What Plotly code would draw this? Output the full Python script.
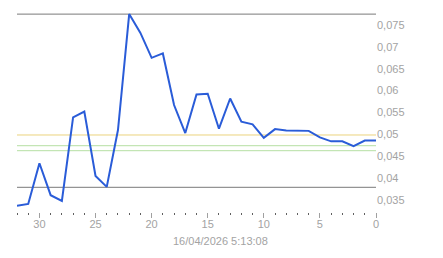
import plotly.graph_objects as go

# Data (days ago -> value)
days = list(range(32, -1, -1))
values = [0.0337, 0.0341, 0.0434, 0.0361, 0.0348, 0.0539, 0.0552, 0.0405, 0.0380,
          0.0510, 0.0775, 0.0732, 0.0675, 0.0685, 0.0567, 0.0503, 0.0591, 0.0593,
          0.0513, 0.0582, 0.0529, 0.0523, 0.0492, 0.0512, 0.0509, 0.0508, 0.0508,
          0.0493, 0.0484, 0.0484, 0.0473, 0.0486, 0.0486]

grey_levels = [0.07749, 0.0379]
yellow_levels = [0.04986]
green_levels = [0.04741, 0.04627]

y_ticks = [0.035, 0.04, 0.045, 0.05, 0.055, 0.06, 0.065, 0.07, 0.075]
x_ticks = [30, 25, 20, 15, 10, 5, 0]
timestamp = "16/04/2026 5:13:08"

fig = go.Figure()

shapes = []
for lv in grey_levels:
    shapes.append(dict(type="line", xref="paper", x0=0, x1=1, yref="y", y0=lv, y1=lv,
                       line=dict(color="#7a7a7a", width=1), layer="below"))
for lv in yellow_levels:
    shapes.append(dict(type="line", xref="paper", x0=0, x1=1, yref="y", y0=lv, y1=lv,
                       line=dict(color="#ebd37e", width=1), layer="below"))
for lv in green_levels:
    shapes.append(dict(type="line", xref="paper", x0=0, x1=1, yref="y", y0=lv, y1=lv,
                       line=dict(color="#b5dfa3", width=1), layer="below"))

fig.add_trace(go.Scatter(x=days, y=values, mode="lines",
                         line=dict(color="#2a5cd8", width=2), hoverinfo="skip"))

fig.update_layout(
    width=443, height=258,
    margin=dict(l=17, r=67, t=0, b=46),
    paper_bgcolor="white", plot_bgcolor="white",
    showlegend=False,
    separators=",.",
    shapes=shapes,
    font=dict(family="Liberation Sans, Arial, sans-serif", size=11, color="#a3a3a3"),
    xaxis=dict(range=[32, 0], showgrid=False, zeroline=False, showline=False,
               tickmode="array", tickvals=x_ticks, ticks="outside", ticklen=5,
               tickcolor="#a0a0a0", tickwidth=1, ticklabelstandoff=-3,
               minor=dict(dtick=1, ticks="outside", ticklen=2, tickcolor="#606060", tickwidth=1),
               tickfont=dict(size=11, color="#a3a3a3")),
    yaxis=dict(range=[0.032257, 0.080714], side="right", showgrid=False, zeroline=False,
               showline=False, tickmode="array", tickvals=y_ticks, ticks="",
               tickfont=dict(size=11, color="#a3a3a3")),
    annotations=[dict(text=timestamp, xref="paper", yref="paper", x=(220 - 17) / 359,
                      y=-(241 - 212) / 212, xanchor="center", yanchor="middle",
                      showarrow=False, font=dict(size=11, color="#a3a3a3"))],
)

fig.write_html("out.html")
